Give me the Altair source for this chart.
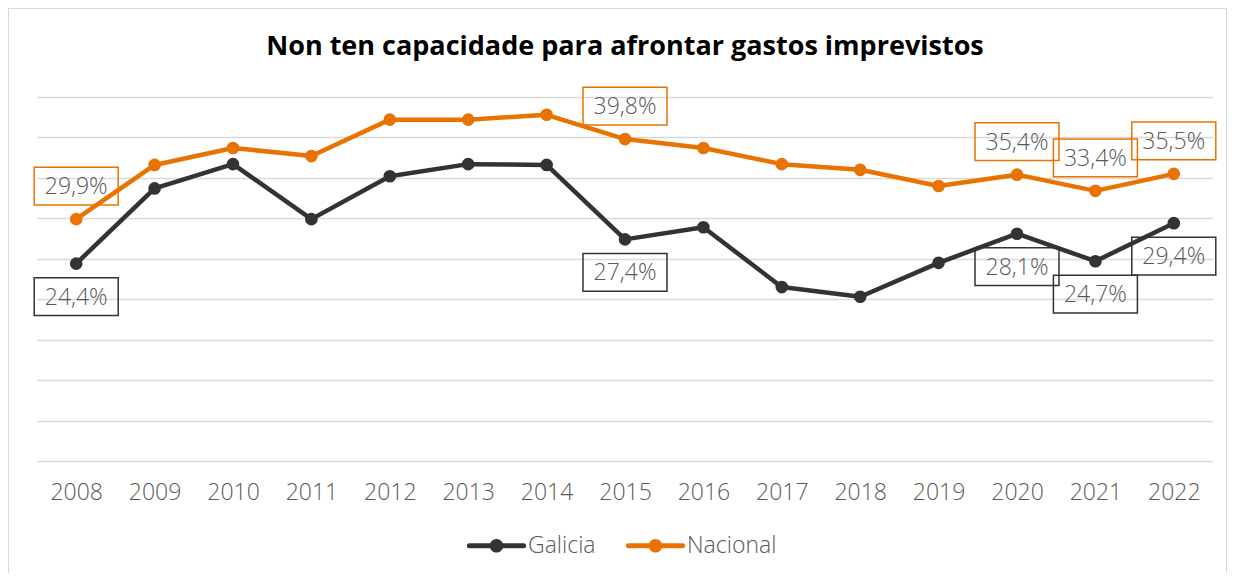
import altair as alt
import pandas as pd

years = [str(y) for y in range(2008, 2023)]
galicia = [24.4, 33.7, 36.7, 29.9, 35.2, 36.7, 36.6, 27.4, 28.9, 21.5, 20.3, 24.5, 28.1, 24.7, 29.4]
nacional = [29.9, 36.6, 38.7, 37.7, 42.2, 42.2, 42.8, 39.8, 38.7, 36.7, 36.0, 34.0, 35.4, 33.4, 35.5]
series = ["Galicia", "Nacional"]
colors = ["#333333", "#E97300"]
labelled_years = ["2008", "2015", "2020", "2021", "2022"]
title_text = "Non ten capacidade para afrontar gastos imprevistos"

rows = []
for s, vals in zip(series, [galicia, nacional]):
    for y, v in zip(years, vals):
        rows.append({
            "year": y,
            "serie": s,
            "value": v,
            "label": (f"{v:.1f}".replace(".", ",") + "%") if y in labelled_years else "",
        })
df = pd.DataFrame(rows)
lab_df = df[df["label"] != ""]

FONT = "Open Sans"
GREY = "#595959"
FS = 23

x_enc = alt.X("year:N", sort=years,
              scale=alt.Scale(type="point", padding=0.5),
              axis=alt.Axis(title=None, domain=False, ticks=False, grid=False,
                            labelFont=FONT, labelFontSize=FS, labelFontWeight=300,
                            labelColor=GREY, labelPadding=20, labelAngle=0))
y_enc = alt.Y("value:Q", scale=alt.Scale(domain=[0, 45], nice=False, zero=True),
              axis=alt.Axis(title=None, domain=False, ticks=False, labels=False,
                            values=list(range(0, 50, 5)),
                            gridColor="#D9D9D9", gridWidth=1.5))
color_scale = alt.Scale(domain=series, range=colors)

legend_symbol = ("M-1,-0.09 A0.09,0.09 0 0,0 -1,0.09 L1,0.09 A0.09,0.09 0 0,0 1,-0.09 Z "
                 "M-0.25,0 A0.25,0.25 0 1,0 0.25,0 A0.25,0.25 0 1,0 -0.25,0 Z")
box_symbol = "M-1,-0.45 L1,-0.45 L1,0.45 L-1,0.45 Z"

legend = alt.Legend(title=None, orient="none", direction="horizontal",
                    legendX=432, legendY=421, padding=0,
                    symbolType=legend_symbol, symbolSize=2970,
                    symbolStrokeWidth=0, symbolOpacity=1,
                    labelFont=FONT, labelFontSize=FS, labelFontWeight=300,
                    labelColor=GREY, labelOffset=4, columnPadding=29)
color_enc = alt.Color("serie:N", scale=color_scale, legend=legend)

base = alt.Chart(df)

one = pd.DataFrame({"t": [title_text]})

frame = alt.Chart(one).mark_rect(
    fill=None, stroke="#D9D9D9", strokeWidth=2
).encode(x=alt.value(-29), x2=alt.value(1190), y=alt.value(-89), y2=alt.value(700))

title = alt.Chart(one).mark_text(
    font="Open Sans", fontSize=27, fontWeight="bold", color="#000000",
    align="center", baseline="alphabetic"
).encode(x=alt.value(588), y=alt.value(-42), text="t:N")

lines = base.mark_line(strokeWidth=4.5, strokeCap="round", strokeJoin="round").encode(
    x=x_enc, y=y_enc, color=color_enc, detail="serie:N",
)

points = base.mark_point(filled=True, size=160, opacity=1).encode(
    x=x_enc, y=y_enc, color=color_enc,
)

boxes_g = alt.Chart(lab_df[lab_df["serie"] == "Galicia"]).mark_point(
    shape=box_symbol, size=7056, filled=False, strokeWidth=1.5, opacity=1,
    yOffset=33
).encode(x=x_enc, y=y_enc, color=color_enc)

boxes_n = alt.Chart(lab_df[lab_df["serie"] == "Nacional"]).mark_point(
    shape=box_symbol, size=7056, filled=False, strokeWidth=1.5, opacity=1,
    yOffset=-33
).encode(x=x_enc, y=y_enc, color=color_enc)

text_g = alt.Chart(lab_df[lab_df["serie"] == "Galicia"]).mark_text(
    font=FONT, fontSize=FS, fontWeight=300, color=GREY, baseline="middle",
    align="center", yOffset=34
).encode(x=x_enc, y=y_enc, text="label:N")

text_n = alt.Chart(lab_df[lab_df["serie"] == "Nacional"]).mark_text(
    font=FONT, fontSize=FS, fontWeight=300, color=GREY, baseline="middle",
    align="center", yOffset=-32
).encode(x=x_enc, y=y_enc, text="label:N")

chart = alt.layer(frame, title, lines, points, boxes_g, boxes_n, text_g, text_n).properties(
    width=1176, height=364,
    autosize=alt.AutoSizeParams(type="none"),
    padding={"left": 29, "top": 89, "right": 14, "bottom": 112},
).configure(background="white", view=alt.ViewConfig(stroke=None))

chart.save("out.html", embed_options={"renderer": "svg", "actions": False})
